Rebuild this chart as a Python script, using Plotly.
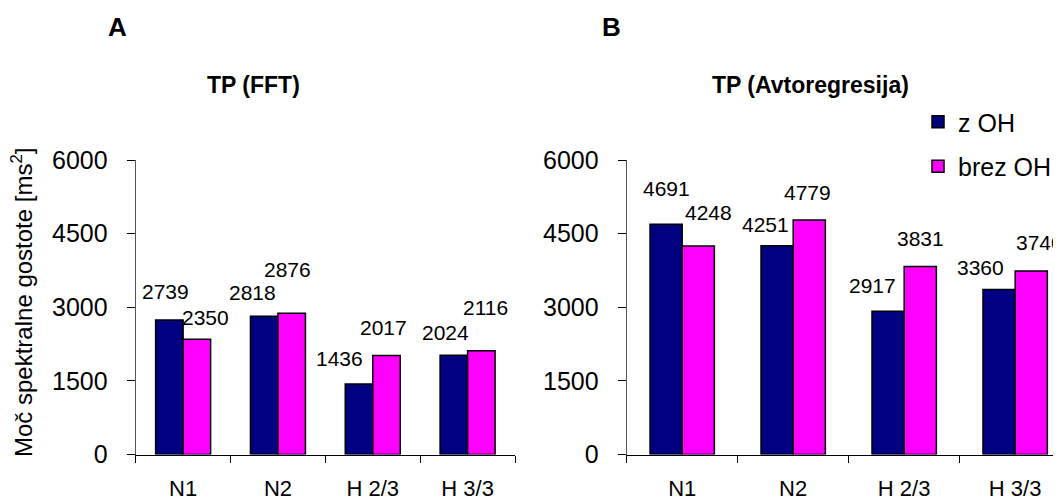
import plotly.graph_objects as go

# ---------------- data ----------------
categories = ["N1", "N2", "H 2/3", "H 3/3"]
series_names = ["z OH", "brez OH"]
fft_z_oh = [2739, 2818, 1436, 2024]
fft_brez_oh = [2350, 2876, 2017, 2116]
ar_z_oh = [4691, 4251, 2917, 3360]
ar_brez_oh = [4248, 4779, 3831, 3740]
y_ticks = [0, 1500, 3000, 4500, 6000]
title_a = "TP (FFT)"
title_b = "TP (Avtoregresija)"
y_title = "Moč spektralne gostote [ms<sup>2</sup>]"

# ---------------- style ----------------
PAGE_W, PAGE_H = 1061, 502
OFF = 8                      # default page (body) margin
W, H = PAGE_W - OFF, PAGE_H - OFF
NAVY = "#000080"
MAGENTA = "#FF00FF"
FONT = "Liberation Sans, Arial, sans-serif"
colors = [NAVY, MAGENTA]

# label offsets (pixels) relative to category centre / bar top, per [category][series]
label_dx_a = [[-18, 22], [-25, 10], [-33, 11], [-22, 18]]
label_gap_a = [[20, 13], [15, 35], [17, 20], [14, 35]]
label_dx_b = [[-16, 26], [-28, 14], [-32, 16], [-35, 24]]
label_gap_b = [[27, 25], [13, 19], [17, 19], [14, 20]]


def px_x(p):
    return (p - OFF) / W


def px_y(p):
    return (PAGE_H - p) / H


fig = go.Figure()

panels = [
    ("x", "y", [fft_z_oh, fft_brez_oh], True),
    ("x2", "y2", [ar_z_oh, ar_brez_oh], False),
]
for xa, ya, vals, show in panels:
    for i, v in enumerate(vals):
        fig.add_trace(go.Bar(
            x=categories, y=v, name=series_names[i],
            xaxis=xa, yaxis=ya,
            marker=dict(color=colors[i], line=dict(color="black", width=1.5)),
            showlegend=show, legendgroup=series_names[i],
        ))

annotations = []
for xa, ya, vals, dxs, gaps in [
    ("x", "y", [fft_z_oh, fft_brez_oh], label_dx_a, label_gap_a),
    ("x2", "y2", [ar_z_oh, ar_brez_oh], label_dx_b, label_gap_b),
]:
    for i, v in enumerate(vals):
        for j, c in enumerate(categories):
            annotations.append(dict(
                x=c, y=v[j], xref=xa, yref=ya, text=str(v[j]),
                showarrow=False, xanchor="center", yanchor="bottom",
                xshift=dxs[j][i], yshift=gaps[j][i] - 5,
                font=dict(family=FONT, size=21, color="black"),
            ))


def paper_text(px, py, text, size, angle=0):
    return dict(x=px_x(px), y=px_y(py), xref="paper", yref="paper", text=text,
                showarrow=False, xanchor="center", yanchor="middle", textangle=angle,
                font=dict(family=FONT, size=size, color="black"))


annotations += [
    paper_text(253, 85, "<b>%s</b>" % title_a, 23),
    paper_text(810, 85, "<b>%s</b>" % title_b, 23),
    paper_text(117, 27, "<b>A</b>", 26),
    paper_text(611, 27, "<b>B</b>", 26),
    paper_text(22, 303, y_title, 24, -90),
]

common_x = dict(
    type="category", tickson="boundaries", ticks="outside", ticklen=7,
    tickcolor="black", showline=True, linecolor="black", linewidth=1,
    showgrid=False, zeroline=False, automargin=False, ticklabelstandoff=14,
    tickfont=dict(family=FONT, size=22, color="black"),
)
common_y = dict(
    range=[0, 6000], tickvals=y_ticks, ticks="outside", ticklen=8,
    tickcolor="black", showline=True, linecolor="#555555", linewidth=1,
    showgrid=False, zeroline=False, automargin=False, ticklabelstandoff=14,
    tickfont=dict(family=FONT, size=25, color="black"),
    domain=[px_y(454.5), px_y(160)],
)

xa_a = dict(common_x); xa_a.update(domain=[px_x(135.7), px_x(515)], range=[-0.5, 3.5], anchor="y")
xa_b = dict(common_x); xa_b.update(domain=[px_x(626.7), 1.0], range=[-0.5, 3.413], anchor="y2")
ya_a = dict(common_y); ya_a.update(anchor="x")
ya_b = dict(common_y); ya_b.update(anchor="x2")

fig.update_layout(
    width=W, height=H,
    margin=dict(l=0, r=0, t=0, b=0),
    paper_bgcolor="white", plot_bgcolor="white",
    barmode="group", bargap=0.42, bargroupgap=0,
    xaxis=xa_a, xaxis2=xa_b, yaxis=ya_a, yaxis2=ya_b,
    annotations=annotations,
    legend=dict(
        x=px_x(918), y=px_y(99), xanchor="left", yanchor="top",
        traceorder="grouped", tracegroupgap=9,
        font=dict(family=FONT, size=25, color="black"),
        bgcolor="rgba(0,0,0,0)",
    ),
)

fig.write_html("out.html")
